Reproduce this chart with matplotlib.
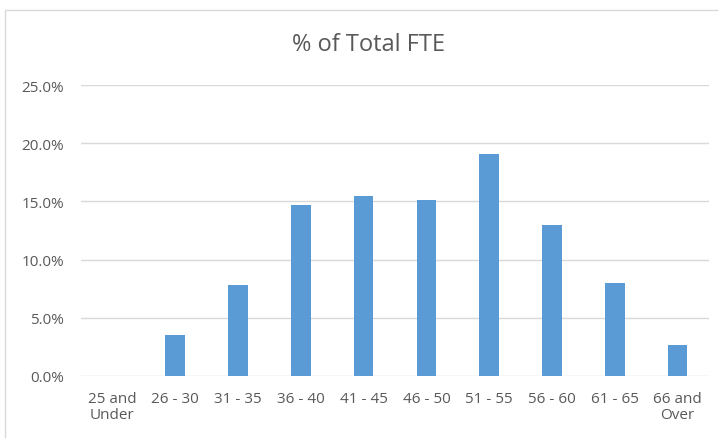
import matplotlib
matplotlib.use("Agg")
import matplotlib.pyplot as plt
from matplotlib.patches import Rectangle
from matplotlib.ticker import PercentFormatter

# age bands and share of total FTE (%)
age_bands = ["25 and\nUnder", "26 - 30", "31 - 35", "36 - 40", "41 - 45",
             "46 - 50", "51 - 55", "56 - 60", "61 - 65", "66 and\nOver"]
pct_fte = [0.0, 3.5, 7.8, 14.7, 15.5, 15.1, 19.1, 13.0, 8.0, 2.7]

W, H = 718, 439
TEXT = "#595959"
GRID = "#d9d9d9"
BAR = "#5b9bd5"

plt.rcParams["font.family"] = ["Open Sans", "DejaVu Sans"]

fig = plt.figure(figsize=(W / 100, H / 100), dpi=100)
ax = fig.add_axes([81 / W, 1 - 377 / H, (709 - 81) / W, (377 - 86) / H])

x = range(len(age_bands))
ax.bar(x, pct_fte, width=0.31, color=BAR, zorder=3)

ax.set_xlim(-0.5, len(age_bands) - 0.5)
ax.set_ylim(0, 25)
ax.set_yticks([0, 5, 10, 15, 20, 25])
ax.yaxis.set_major_formatter(PercentFormatter(decimals=1))
ax.set_xticks(list(x))
ax.set_xticklabels(age_bands, linespacing=1.05)

ax.grid(axis="y", color=GRID, lw=1.0, zorder=0)
for s in ax.spines.values():
    s.set_visible(False)
ax.tick_params(length=0, colors=TEXT, labelsize=11)
ax.tick_params(axis="y", pad=12)
ax.tick_params(axis="x", pad=11)
for lab in ax.get_xticklabels():
    lab.set_verticalalignment("top")

fig.text(368 / W, 1 - 45 / H, "% of Total FTE", ha="center", va="center",
         fontsize=17, color=TEXT)

# light chart-area border
fig.patches.append(Rectangle((5 / W, -0.1), 1.2, 1.1 - 11 / H,
                             transform=fig.transFigure, fill=False,
                             edgecolor=GRID, lw=1.0))

fig.savefig("out.png", dpi=100)
